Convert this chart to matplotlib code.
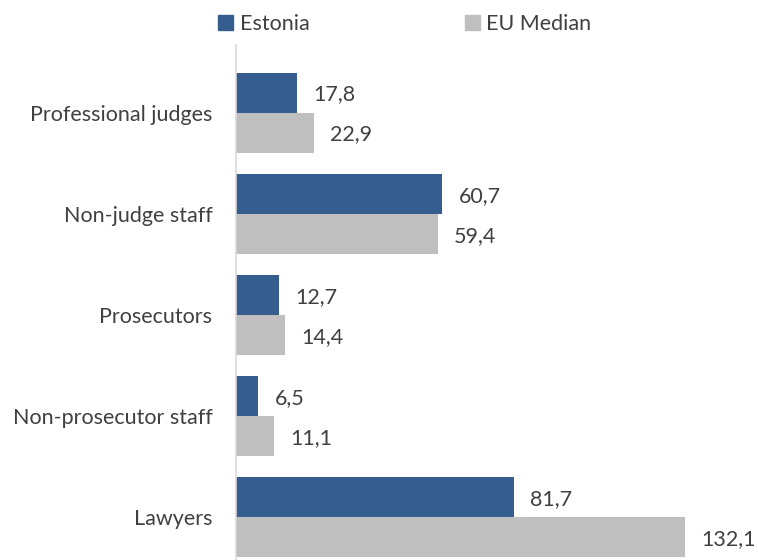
import matplotlib.pyplot as plt
import numpy as np
from matplotlib.patches import Patch

categories = ["Professional judges", "Non-judge staff", "Prosecutors",
              "Non-prosecutor staff", "Lawyers"]
estonia = [17.8, 60.7, 12.7, 6.5, 81.7]
eu_median = [22.9, 59.4, 14.4, 11.1, 132.1]

C_EST = "#355E8E"
C_EU = "#BFBFBF"
C_TXT = "#404040"
FS = 15.5

plt.rcParams["font.family"] = ["Lato", "DejaVu Sans"]

fig = plt.figure(figsize=(7.58, 5.6), dpi=100)
ax = fig.add_axes([236 / 758, 0.0, (740 - 236) / 758, 1 - 45 / 560])

y = np.arange(len(categories))
h = 0.396
ax.barh(y - h / 2, estonia, height=h, color=C_EST)
ax.barh(y + h / 2, eu_median, height=h, color=C_EU)

# value labels, comma as decimal sign
for yi, v in zip(y - h / 2, estonia):
    ax.text(v + 4.8, yi + 0.02, f"{v:.1f}".replace(".", ","), va="center",
            ha="left", fontsize=FS, color=C_TXT)
for yi, v in zip(y + h / 2, eu_median):
    ax.text(v + 4.8, yi + 0.02, f"{v:.1f}".replace(".", ","), va="center",
            ha="left", fontsize=FS, color=C_TXT)

ax.set_xlim(0, (740 - 236) / 3.4)
ax.set_ylim(4.425, -0.668)
ax.set_yticks(y)
ax.set_yticklabels(categories, fontsize=FS, color=C_TXT)
ax.tick_params(axis="y", length=0, pad=17)
ax.set_xticks([])
for s in ["top", "right", "bottom"]:
    ax.spines[s].set_visible(False)
ax.spines["left"].set_color("#D9D9D9")
ax.spines["left"].set_linewidth(1.2)

handles = [Patch(color=C_EST, label="Estonia"), Patch(color=C_EU, label="EU Median")]
leg = fig.legend(handles=handles, loc="center", bbox_to_anchor=(0.534, 0.957),
                 ncol=2, frameon=False, fontsize=FS, columnspacing=7.2,
                 handlelength=0.7, handleheight=0.7, handletextpad=0.3)
for t in leg.get_texts():
    t.set_color(C_TXT)

fig.savefig("out.png", dpi=100)
